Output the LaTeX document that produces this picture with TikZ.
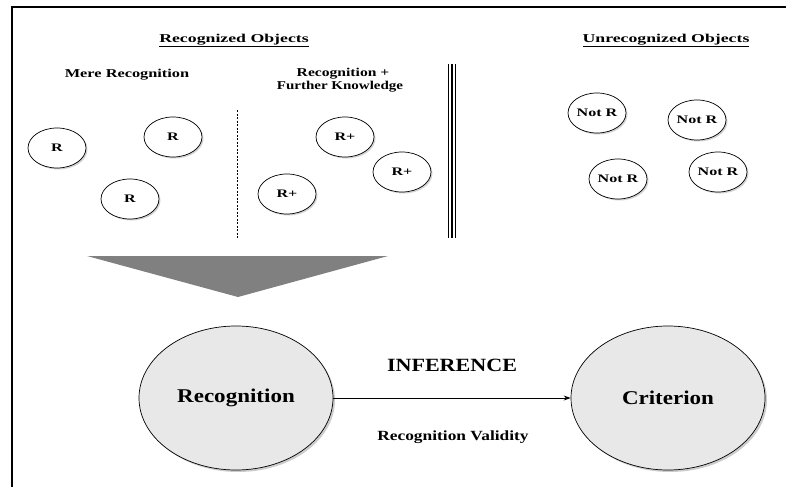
\documentclass[tikz,border=0pt]{standalone}
\usepackage{graphicx}
\usepackage{fontspec}
\setmainfont{Liberation Serif}
\usepackage{tikz}
\usetikzlibrary{shapes.geometric,shadows,arrows.meta}
\def\wide#1{\scalebox{1.4}[1]{#1}}
\def\half#1{\scalebox{1.18}[1]{#1}}

\begin{document}
\begin{tikzpicture}[x=1pt,y=-1pt,
    hd/.style={font=\fontsize{12}{13}\selectfont\bfseries,inner sep=0pt,anchor=base},
    obj/.style={ellipse,draw,line width=0.7pt,fill=white,minimum width=58pt,minimum height=40pt,
        inner sep=0pt,font=\fontsize{11.5}{12}\selectfont\bfseries,
        drop shadow={shadow xshift=1.5pt,shadow yshift=-1.5pt,fill=black!35}},
    big/.style={ellipse,draw,line width=0.7pt,fill=black!9,minimum width=194pt,minimum height=144pt,
        inner sep=0pt,font=\fontsize{19.5}{20}\selectfont\bfseries,
        drop shadow={shadow xshift=2pt,shadow yshift=-2pt,fill=black!40}}]
    \useasboundingbox (0,0) rectangle (786,487);
    % frame
    \draw[line width=2pt] (12,487) -- (12,7) -- (786,7);
    % headings
    \node[hd] (hrec) at (234,42.3) {\scalebox{1.48}[1]{\underline{Recognized Objects}}};
    \node[hd] (hunr) at (666,42.3) {\scalebox{1.48}[1]{\underline{Unrecognized Objects}}};
    \node[hd] (mere) at (127,77.3) {\scalebox{1.36}[1]{Mere Recognition}};
    \node[hd] (rk) at (343,76.7) {\scalebox{1.3}[1]{Recognition +}};
    \node[hd] (fk) at (340,89.5) {\scalebox{1.25}[1]{Further Knowledge}};
    % dividers
    \draw[line width=0.6pt,dash pattern=on 2pt off 1.5pt] (237,110) -- (237,238);
    \foreach \x in {448.5,452,455.5}
        \draw[line width=1.2pt] (\x,64) -- (\x,238);
    % recognized objects
    \node[obj] (r1) at (57,148) {\wide{R}};
    \node[obj] (r2) at (173,137) {\wide{R}};
    \node[obj] (r3) at (130,199) {\wide{R}};
    \node[obj] (p1) at (345,137) {\wide{R+}};
    \node[obj] (p2) at (402,172) {\wide{R+}};
    \node[obj] (p3) at (287,194) {\wide{R+}};
    % unrecognized objects
    \node[obj] (n1) at (597,113) {\wide{Not R}};
    \node[obj] (n2) at (697,120) {\wide{Not R}};
    \node[obj] (n3) at (618,179) {\wide{Not R}};
    \node[obj] (n4) at (718,172) {\wide{Not R}};
    % funnel
    \fill[black!50] (87,256) -- (388,256) -- (238,297) -- cycle;
    % inference
    \node[big] (rec) at (236,398) {\half{Recognition}};
    \node[big] (crit) at (668,398) {\half{Criterion}};
    \draw[line width=1pt,-{Stealth[length=7pt,width=5pt]}] (rec) -- (crit);
    \node[font=\fontsize{18.7}{19}\selectfont\bfseries,inner sep=0pt,anchor=base] (inf) at (452,371) {\half{INFERENCE}};
    \node[font=\fontsize{14}{15}\selectfont\bfseries,inner sep=0pt] (val) at (453,437) {\scalebox{1.24}[1]{Recognition Validity}};
\end{tikzpicture}
\end{document}
